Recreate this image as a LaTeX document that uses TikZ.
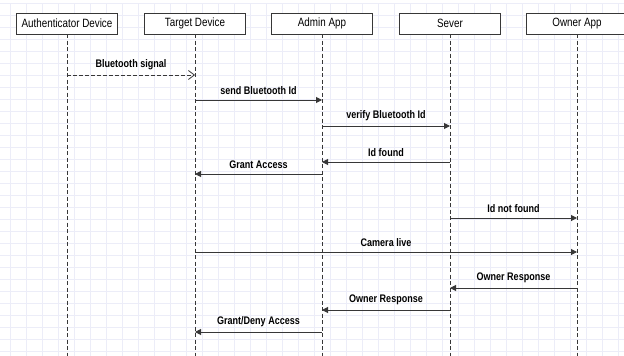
\documentclass[tikz,border=0pt]{standalone}
\usepackage{fontspec}
\setmainfont{Liberation Sans}[FakeStretch=0.82]
\usetikzlibrary{arrows.meta,positioning}
\definecolor{gridcol}{RGB}{236,237,248}
\definecolor{linecol}{RGB}{55,55,55}
\tikzset{%
  x=1pt,y=-1pt,
  actor/.style={draw=linecol,rectangle,minimum width=101pt,minimum height=21pt,
    inner sep=0pt,fill=white,font=\fontsize{12}{14}\selectfont},
  life/.style={draw=linecol,dash pattern=on 4pt off 2.5pt,thin},
  msg/.style={draw=linecol,line width=1pt,-{Triangle[length=6pt,width=6pt]}},
  dmsg/.style={draw=linecol,line width=0.8pt,dash pattern=on 4pt off 2pt,
    -{Straight Barb[length=6pt,width=9pt]}},
  lbl/.style={midway,above=5pt,inner sep=0pt,font=\bfseries\fontsize{11}{13}\selectfont}
}
\begin{document}
\begin{tikzpicture}
  \useasboundingbox[fill=white] (0,0) rectangle (624,356);
  % background grid
  \foreach \gx in {10,26,...,624}
    \draw[gridcol,line width=0.5pt] (\gx,3) -- (\gx,356);
  \foreach \gy in {3,15,...,356}
    \draw[gridcol,line width=0.5pt] (0,\gy) -- (624,\gy);
  % actors
  \node[actor] (auth)   at (67,23.5)  {Authenticator Device};
  \node[actor] (target) at (195,23.5) {Target Device};
  \node[actor] (admin)  at (322,23.5) {Admin App};
  \node[actor] (server) at (450,23.5) {Sever};
  \node[actor] (owner)  at (577,23.5) {Owner App};
  % lifelines
  \foreach \a in {auth,target,admin,server,owner}
    \draw[life] (\a.south) -- (\a |- 0,356);
  % messages
  \draw[dmsg] (auth |- 0,75) -- (target |- 0,75) node[lbl] {Bluetooth signal};
  \draw[msg] (target |- 0,100) -- (admin |- 0,100) node[lbl] {send Bluetooth Id};
  \draw[msg] (admin |- 0,126) -- (server |- 0,126) node[lbl] {verify Bluetooth Id};
  \draw[msg] (server |- 0,162) -- (admin |- 0,162) node[lbl] {Id found};
  \draw[msg] (admin |- 0,174) -- (target |- 0,174) node[lbl] {Grant Access};
  \draw[msg] (server |- 0,218) -- (owner |- 0,218) node[lbl] {Id not found};
  \draw[msg] (target |- 0,252) -- (owner |- 0,252) node[lbl] {Camera live};
  \draw[msg] (owner |- 0,288) -- (server |- 0,288) node[lbl] {Owner Response};
  \draw[msg] (server |- 0,310) -- (admin |- 0,310) node[lbl] {Owner Response};
  \draw[msg] (admin |- 0,332) -- (target |- 0,332) node[lbl] {Grant/Deny Access};
\end{tikzpicture}
\end{document}
